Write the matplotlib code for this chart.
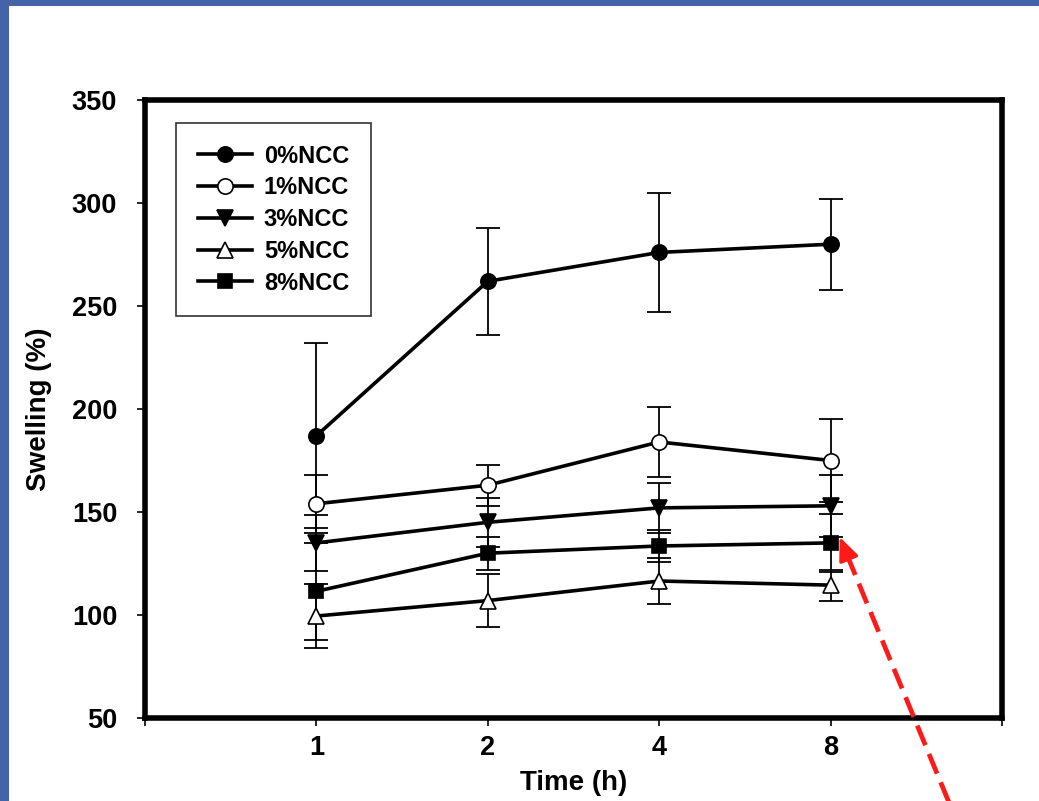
import matplotlib
matplotlib.use("Agg")
import matplotlib.pyplot as plt
from matplotlib.patches import Rectangle
from matplotlib.lines import Line2D
import numpy as np

plt.rcParams['font.family'] = ['Liberation Sans', 'DejaVu Sans']
plt.rcParams['font.weight'] = 'bold'

# ---- data ----
times = ['1', '2', '4', '8']
series_labels = ['0%NCC', '1%NCC', '3%NCC', '5%NCC', '8%NCC']
ncc0 = [187, 262, 276, 280]
err0 = [45, 26, 29, 22]
ncc1 = [154, 163, 184, 175]
err1 = [14, 10, 17, 20]
ncc3 = [135, 145, 152, 153]
err3 = [13.5, 12, 12, 15]
ncc5 = [99.5, 107, 116.5, 114.5]
err5 = [15.5, 13, 11, 7.5]
ncc8 = [111.5, 130, 133.5, 135]
err8 = [23.5, 8, 8, 14]
yticks = [50, 100, 150, 200, 250, 300, 350]

W, H, DPI = 1039, 801, 100
fig = plt.figure(figsize=(W / DPI, H / DPI), dpi=DPI)
fig.patch.set_facecolor('white')

# slide border
blue = '#4463a8'
fig.add_artist(Rectangle((0, 1 - 6 / H), 1, 6 / H, transform=fig.transFigure,
                         facecolor=blue, edgecolor='none', zorder=0))
fig.add_artist(Rectangle((0, 0), 9 / W, 1, transform=fig.transFigure,
                         facecolor=blue, edgecolor='none', zorder=0))

ax = fig.add_axes([145 / W, 1 - 718 / H, (1002 - 145) / W, (718 - 100) / H])
xs = list(range(1, len(times) + 1))

styles = [
    (ncc0, err0, 'o', 'black', 11),
    (ncc1, err1, 'o', 'white', 11),
    (ncc3, err3, 'v', 'black', 11),
    (ncc5, err5, '^', 'white', 11),
    (ncc8, err8, 's', 'black', 10),
]

for vals, errs, m, fc, ms in styles:
    ax.errorbar(xs, vals, yerr=errs, fmt='none', ecolor='black',
                elinewidth=1.3, capsize=8.5, capthick=1.3, zorder=2)

handles = []
for (vals, errs, m, fc, ms), lab in zip(styles, series_labels):
    ln, = ax.plot(xs, vals, color='black', linewidth=2.6, marker=m,
                  markersize=ms, markerfacecolor=fc, markeredgecolor='black',
                  markeredgewidth=1.2, label=lab, zorder=3)
    handles.append(ln)

ax.set_xlim(0, len(times) + 1)
ax.set_ylim(50, 350)
ax.set_xticks(range(0, len(times) + 2))
ax.set_xticklabels([''] + times + [''])
ax.set_yticks(yticks)
ax.set_yticklabels([str(v) for v in yticks])
ax.tick_params(axis='both', direction='out', length=6, width=1.2,
               labelsize=19.5, colors='black')
ax.tick_params(axis='x', pad=6)
ax.tick_params(axis='y', pad=14)
for lab in ax.get_xticklabels() + ax.get_yticklabels():
    lab.set_fontweight('bold')
for s in ax.spines.values():
    s.set_linewidth(4.0)
    s.set_color('black')

ax.set_xlabel('Time (h)', fontsize=20, fontweight='bold', labelpad=7)
ax.set_ylabel('Swelling (%)', fontsize=20, fontweight='bold', labelpad=14)

leg = ax.legend(handles=handles, loc='upper left',
                bbox_to_anchor=(176 / W, 1 - 123 / H),
                bbox_transform=fig.transFigure, borderaxespad=0,
                fontsize=17, frameon=True, fancybox=False, shadow=False,
                handlelength=2.3, handletextpad=0.5, labelspacing=0.37,
                borderpad=0.92, numpoints=1)
leg.get_frame().set_edgecolor('black')
leg.get_frame().set_linewidth(1.2)
for t in leg.get_texts():
    t.set_fontweight('bold')

# red dashed arrow pointing at the last 8%NCC point
fig.canvas.draw()
cx, cy = ax.transData.transform((xs[-1], ncc8[-1]))
tip = (cx + 9, cy + 6)
tail = (950, -4)
d = np.array(tip) - np.array(tail)
u = d / np.hypot(*d)
head_base = np.array(tip) - u * 20
fig.add_artist(Line2D([tail[0] / W, head_base[0] / W], [tail[1] / H, head_base[1] / H],
                      transform=fig.transFigure, color='#ff1a1a', linewidth=3.4,
                      linestyle=(0, (4.5, 2.0)), zorder=10))
ax.annotate('', xy=tip, xycoords='figure pixels',
            xytext=tuple(head_base + u * 2), textcoords='figure pixels',
            arrowprops=dict(arrowstyle='-|>,head_length=1.4,head_width=0.6',
                            color='#ff1a1a', linewidth=2.5, shrinkA=0, shrinkB=0),
            annotation_clip=False, zorder=11)

fig.savefig('out.png', dpi=DPI, facecolor=fig.get_facecolor())
